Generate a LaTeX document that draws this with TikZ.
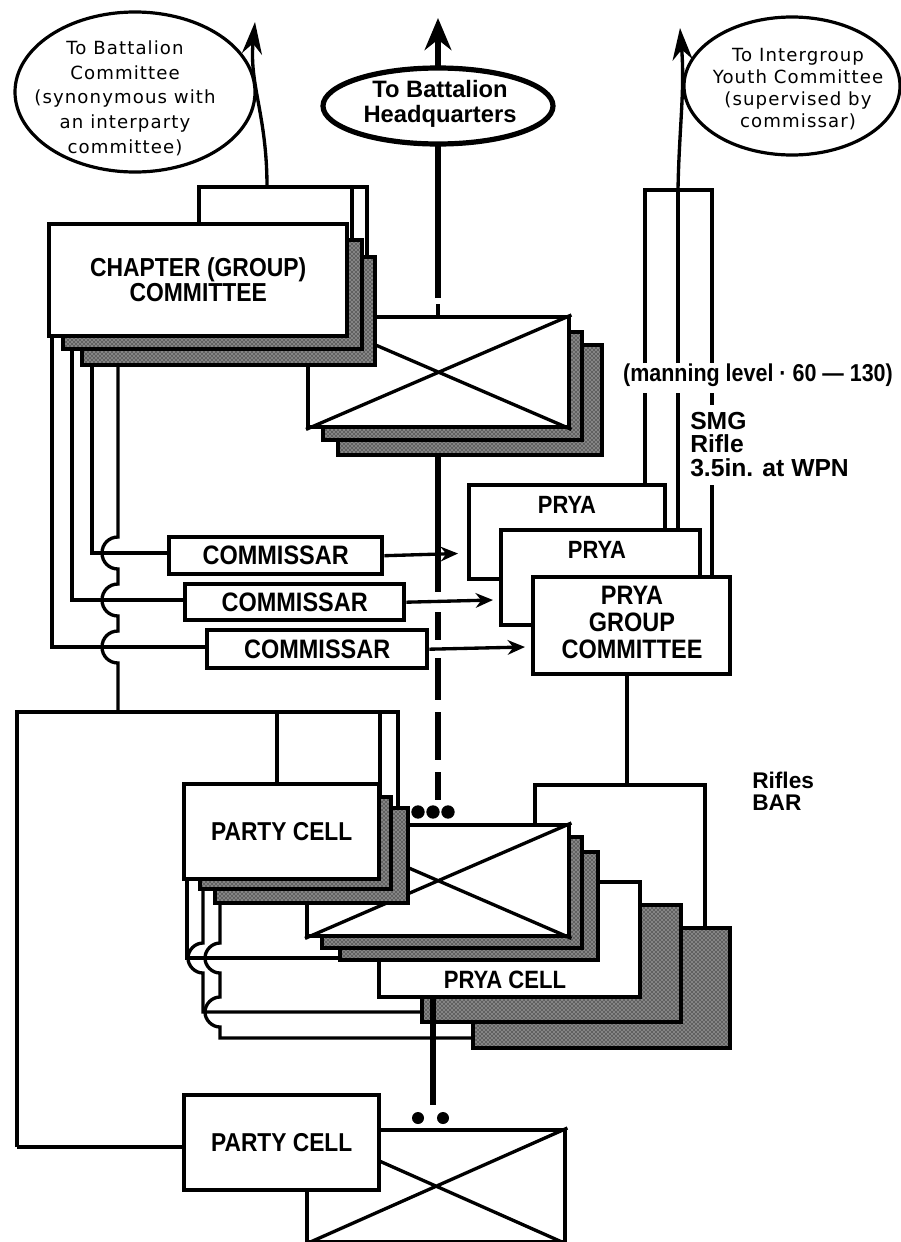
\documentclass[tikz,border=0pt]{standalone}
\usepackage{fontspec}
\setmainfont{Liberation Sans}
\newfontfamily\condf{Liberation Sans}[FakeStretch=0.88]
\newfontfamily\thinf{DejaVu Sans}[LetterSpace=6]
\usetikzlibrary{shapes.geometric,arrows.meta,patterns}
\newcommand\lblfont[2]{\condf\bfseries\fontsize{#1pt}{#2pt}\selectfont}
\begin{document}
\begin{tikzpicture}[x=0.75pt,y=-0.75pt,
  bx/.style={draw,line width=3.3pt,fill=white,inner sep=0pt,anchor=north west,align=center},
  shd/.style={draw,line width=3pt,preaction={fill=black!62},pattern=crosshatch dots,pattern color=white},
  cn/.style={line width=2.5pt},
  thk/.style={line width=4.6pt},
  lb/.style={inner sep=0pt,align=center},
  thin/.style={ellipse,draw,line width=2.4pt,inner sep=0pt}]
\useasboundingbox[fill=white] (0,0) rectangle (900,1242);

% ---- top cross box stack
\draw[shd] (338,345) rectangle (602,455);
\draw[shd] (323,332) rectangle (582,440);
\node[bx,minimum width=195.75pt,minimum height=82.5pt] (xa) at (306,315) {};
\draw[cn] (xa.north west) -- (xa.south east) (xa.south west) -- (xa.north east);

% ---- chapter stack
\draw[shd] (82,257) rectangle (375,365);
\draw[shd] (63,240) rectangle (362,349);
\node[bx,minimum width=223.5pt,minimum height=84pt,font=\lblfont{19.5}{18.75}] (chap) at (47,222) {CHAPTER (GROUP)\\COMMITTEE};

% chapter top links
\draw[cn] (199,222) -- (199,187) -- (367,187) -- (367,257);
\draw[cn] (352,240) -- (352,187);
\draw[cn,-{Stealth[length=24pt,width=15pt]}] (267,187) .. controls (267,115) and (249,85) .. (255,22);
\node[thin,minimum width=180pt,minimum height=120pt] (e1) at (135,92) {};
\node[lb,font=\thinf\fontsize{13.6pt}{18.5pt}\selectfont] (e1t) at (125,98) {To Battalion\\Committee\\(synonymous with\\an interparty\\committee)};

% chapter bottom links
\draw[cn] (52,334) -- (52,647) -- (205,647);
\draw[cn] (72,349) -- (72,600) -- (183,600);
\draw[cn] (92,365) -- (92,553) -- (167,553);
\draw[cn] (118,365) -- (118,537) .. controls (109,537) and (102,544) .. (102,553) .. controls (102,562) and (109,569) .. (118,569)
  -- (118,584) .. controls (109,584) and (102,591) .. (102,600) .. controls (102,609) and (109,616) .. (118,616)
  -- (118,631) .. controls (109,631) and (102,638) .. (102,647) .. controls (102,656) and (109,663) .. (118,663) -- (118,712);

% ---- central thick line
\draw[thk,-{Stealth[length=24pt,width=20pt]}] (438,298) -- (438,18);
\draw[cn] (438,304) -- (438,315);
\node[ellipse,draw,line width=3.9pt,fill=white,minimum width=172.5pt,minimum height=57pt,inner sep=0pt] (hq) at (438,106) {};
\node[lb,font=\bfseries\fontsize{17.8pt}{19pt}\selectfont] (hqt) at (440,104) {To Battalion\\Headquarters};
\draw[thk] (438,455) -- (438,592);
\draw[thk] (438,612) -- (438,640);
\draw[thk] (438,658) -- (438,700);
\draw[thk] (438,712) -- (438,760);
\draw[thk] (438,772) -- (438,800);

% ---- commissars
\node[bx,minimum width=159.75pt,minimum height=27.75pt,font=\lblfont{20}{20}] (c1) at (167,535) {COMMISSAR};
\node[bx,minimum width=164.25pt,minimum height=27pt,font=\lblfont{20}{20}] (c2) at (183,582) {COMMISSAR};
\node[bx,minimum width=165pt,minimum height=28.5pt,font=\lblfont{20}{20}] (c3) at (205,628) {COMMISSAR};
\draw[cn,-{Stealth[length=13pt,width=11pt]}] (c1.east) -- (458,553.5);
\draw[cn,-{Stealth[length=13pt,width=11pt]}] (c2.east) -- (493,600);
\draw[cn,-{Stealth[length=13pt,width=11pt]}] (c3.east) -- (525,647);

% ---- PRYA stack
\node[bx,minimum width=147pt,minimum height=70.5pt] (p1) at (467,483) {};
\node[lb,font=\lblfont{18.7}{20}] (p1t) at (567,505) {PRYA};
\node[bx,minimum width=149.25pt,minimum height=71.25pt] (p2) at (499,528) {};
\node[lb,font=\lblfont{18.7}{20}] (p2t) at (597,550) {PRYA};
\node[bx,minimum width=147.75pt,minimum height=72.75pt] (pg) at (531,575) {};
\node[lb,font=\lblfont{20}{20.25}] (pgt) at (632,622) {PRYA\\GROUP\\COMMITTEE};

\draw[cn] (645,483) -- (645,393);
\draw[cn] (678,528) -- (678,393);
\draw[cn] (712,575) -- (712,485);
\draw[cn] (712,393) -- (712,405);
\draw[cn] (645,363) -- (645,190) -- (712,190) -- (712,363);
\draw[cn] (678,363) -- (678,190);
\draw[cn,-{Stealth[length=24pt,width=15pt]}] (678,190) .. controls (679,130) and (685,90) .. (680,28);
\node[thin,minimum width=162pt,minimum height=103.5pt] (e2) at (792,86) {};
\node[lb,font=\thinf\fontsize{13.6pt}{16.5pt}\selectfont] (e2t) at (798,89) {To Intergroup\\Youth Committee\\(supervised by\\commissar)};

\node[lb,font=\lblfont{18.3}{20}] (man) at (758,375) {(manning level · 60 — 130)};
\node[anchor=north west,inner sep=0pt,align=left,font=\bfseries\fontsize{18.5pt}{17.6pt}\selectfont] (smg) at (690,412) {SMG\\Rifle\\3.5in. at WPN};
\node[anchor=north west,inner sep=0pt,align=left,font=\bfseries\fontsize{17pt}{16pt}\selectfont] (rif) at (752,772) {Rifles\\BAR};

% PRYA GC down links
\draw[cn] (627,672) -- (627,785);
\draw[cn] (535,823) -- (535,785) -- (705,785) -- (705,928);

% left frame links
\draw[cn] (17,1147) -- (17,712) -- (398,712) -- (398,808);
\draw[cn] (277,712) -- (277,782);
\draw[cn] (380,712) -- (380,797);

% ---- PRYA cell stack
\draw[shd] (473,928) rectangle (730,1048);
\draw[shd] (422,905) rectangle (681,1022);
\node[bx,minimum width=195.75pt,minimum height=86.25pt] (pc) at (377,880) {};
\node[lb,font=\lblfont{18.8}{20}] (pct) at (505,980) {PRYA CELL};

% ---- middle cross box stack
\draw[shd] (340,852) rectangle (598,960);
\draw[shd] (322,837) rectangle (582,948);
\node[bx,minimum width=196.5pt,minimum height=83.25pt] (xb) at (305,823) {};
\draw[cn] (xb.north west) -- (xb.south east) (xb.south west) -- (xb.north east);

% ---- party cell 1 stack
\draw[shd] (215,808) rectangle (408,903);
\draw[shd] (200,797) rectangle (391,889);
\node[bx,minimum width=146.25pt,minimum height=71.25pt,font=\lblfont{19.4}{20}] (pa) at (182,782) {PARTY CELL};
\fill (418,812) circle[radius=5pt] (433,812) circle[radius=5pt] (448,812) circle[radius=5pt];

% party cell 1 down links
\draw[cn] (187,877) -- (187,958) -- (340,958);
\draw[cn] (203,889) -- (203,943) .. controls (195,943) and (188,950) .. (188,958) .. controls (188,966) and (195,973) .. (203,973) -- (203,1012) -- (422,1012);
\draw[cn] (220,903) -- (220,943) .. controls (212,943) and (205,950) .. (205,958) .. controls (205,966) and (212,973) .. (220,973)
  -- (220,997) .. controls (212,997) and (205,1004) .. (205,1012) .. controls (205,1020) and (212,1027) .. (220,1027) -- (220,1038) -- (473,1038);
\draw[thk] (433,995) -- (433,1105);
\fill (418,1118) circle[radius=4.5pt] (443,1118) circle[radius=4.5pt];

% ---- bottom party cell and cross box
\node[bx,minimum width=193.5pt,minimum height=84pt] (xc) at (305,1128) {};
\draw[cn] (xc.north west) -- (xc.south east) (xc.south west) -- (xc.north east);
\node[bx,minimum width=146.25pt,minimum height=71.25pt,font=\lblfont{19.4}{20}] (pb) at (182,1093) {PARTY CELL};
\draw[cn] (17,1147) -- (182,1147);
\end{tikzpicture}
\end{document}
